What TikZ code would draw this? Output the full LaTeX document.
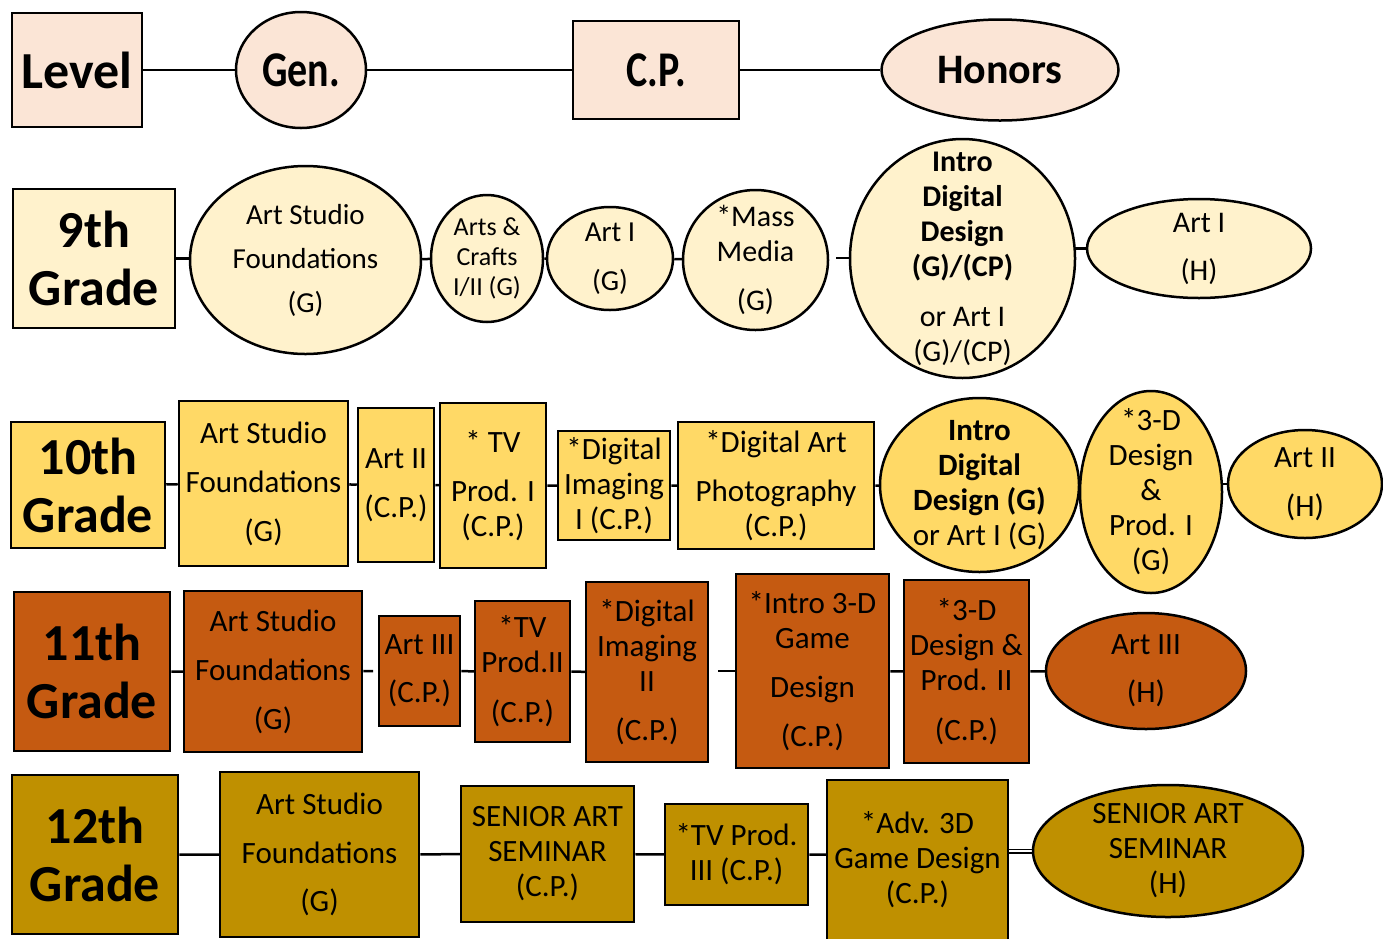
\documentclass[tikz,border=0pt]{standalone}
\usepackage{fontspec}
\setmainfont{Carlito}
\newfontfamily\condfont{Carlito}[FakeStretch=0.8]
\usetikzlibrary{shapes.geometric,backgrounds}
\definecolor{cLev}{HTML}{FBE5D6}
\definecolor{cNine}{HTML}{FFF2CC}
\definecolor{cTen}{HTML}{FFD966}
\definecolor{cEleven}{HTML}{C55A11}
\definecolor{cTwelve}{HTML}{BF9000}
\tikzset{
  sz/.style 2 args={minimum width=#1pt, minimum height=#2pt},
  bx/.style={draw=black, line width=2.5pt, rectangle, inner sep=0pt},
  el/.style={draw=black, line width=2.5pt, ellipse, inner sep=0pt},
  lbl/.style={align=center, inner sep=0pt, text=black, font=\fontsize{31}{35}\selectfont},
  t/.style={label={[lbl]center:{#1}}},
  ts/.style 2 args={label={[lbl,font=\fontsize{#1}{35}\selectfont]center:{#2}}},
  gr/.style={label={[lbl,font=\bfseries\fontsize{52}{58}\selectfont]center:{#1}}},
  conn/.style={draw=black, line width=2.5pt},
  dbl/.style={draw=black, line width=1.3pt, double, double distance=2.4pt},
}
\begin{document}
\begin{tikzpicture}[x=1pt, y=-1pt]
\useasboundingbox (0,0) rectangle (1383,938);
\clip (0,0) rectangle (1383,938);
% ---------- Level row
\node[bx, fill=cLev, sz={130}{114}, label={[lbl,font=\bfseries\fontsize{52}{58}\selectfont]center:{Level}}] (L) at (77,70) {};
\node[el, fill=cLev, sz={130}{116}, label={[lbl,font=\condfont\bfseries\fontsize{50}{58}\selectfont]center:{Gen.}}] (Gen) at (301,70) {};
\node[bx, fill=cLev, sz={166}{98}, label={[lbl,font=\condfont\bfseries\fontsize{50}{58}\selectfont]center:{C.P.}}] (CP) at (656,70) {};
\node[el, fill=cLev, sz={237}{101}, label={[lbl,font=\bfseries\fontsize{42}{50}\selectfont]center:{Honors}}] (Hon) at (1000,70) {};
% ---------- 9th grade
\node[bx, fill=cNine, sz={162}{139}, gr={9th\\Grade}] (g9) at (94,258.5) {};
\node[el, fill=cNine, sz={231}{188}, ts={29}{Art Studio\\[9pt]Foundations\\[9pt](G)}] (a9) at (305.5,260) {};
\node[el, fill=cNine, sz={112}{127}, label={[lbl,font=\fontsize{26}{30}\selectfont]center:{Arts \&\\Crafts\\I/II (G)}}] (b9) at (487,258.5) {};
\node[el, fill=cNine, sz={126}{103}, ts={29}{Art I\\[14pt](G)}] (c9) at (610,258.5) {};
\node[el, fill=cNine, sz={145}{140}, ts={30}{*Mass\\Media\\[14pt](G)}] (d9) at (755.5,260) {};
\node[el, fill=cNine, sz={225}{239}, ts={30}{\textbf{Intro}\\\textbf{Digital}\\\textbf{Design}\\\textbf{(G)/(CP)}\\[15pt]or Art I\\(G)/(CP)}] (e9) at (962.5,258.5) {};
\node[el, fill=cNine, sz={224}{99}, ts={30}{Art I\\[13pt](H)}] (f9) at (1199,248.5) {};
\coordinate (m9) at (836,258);
% ---------- 10th grade
\node[bx, fill=cTen, sz={154}{126}, gr={10th\\Grade}] (g10) at (88,485) {};
\node[bx, fill=cTen, sz={169}{165}, t={Art Studio\\[14pt]Foundations\\[14pt](G)}] (a10) at (263.5,483.5) {};
\node[bx, fill=cTen, sz={76}{154}, t={Art II\\[14pt](C.P.)}] (b10) at (396,485) {};
\node[bx, fill=cTen, sz={106}{165}, t={* TV\\[14pt]Prod. I\\(C.P.)}] (c10) at (493,485.5) {};
\node[bx, fill=cTen, sz={112}{109}, t={*Digital\\Imaging\\I (C.P.)}] (d10) at (614,485.5) {};
\node[bx, fill=cTen, sz={196}{127}, t={*Digital Art\\[14pt]Photography\\(C.P.)}] (e10) at (776,485.5) {};
\node[el, fill=cTen, sz={199}{174}, t={\textbf{Intro}\\\textbf{Digital}\\\textbf{Design (G)}\\or Art I (G)}] (f10) at (979.5,485) {};
\node[el, fill=cTen, sz={142}{202}, t={*3-D\\Design\\\&\\Prod. I\\(G)}] (k10) at (1151,492) {};
\node[el, fill=cTen, sz={154}{108}, t={Art II\\[14pt](H)}] (h10) at (1305,484) {};
% ---------- 11th grade
\node[bx, fill=cEleven, sz={156}{159}, gr={11th\\Grade}] (g11) at (92,671.5) {};
\node[bx, fill=cEleven, sz={178}{161}, t={Art Studio\\[14pt]Foundations\\[14pt](G)}] (a11) at (273,671.5) {};
\node[bx, fill=cEleven, sz={81}{110}, t={Art III\\[13pt](C.P.)}] (b11) at (419.5,671) {};
\node[bx, fill=cEleven, sz={95}{141}, t={*TV\\Prod.II\\[15pt](C.P.)}] (c11) at (522.5,671.5) {};
\node[bx, fill=cEleven, sz={122}{180}, t={*Digital\\Imaging\\II\\[14pt](C.P.)}] (d11) at (647,672) {};
\node[bx, fill=cEleven, sz={153}{194}, t={*Intro 3-D\\Game\\[14pt]Design\\[14pt](C.P.)}] (e11) at (812.5,671) {};
\node[bx, fill=cEleven, sz={125}{183}, t={*3-D\\Design \&\\Prod. II\\[15pt](C.P.)}] (f11) at (966.5,671.5) {};
\node[el, fill=cEleven, sz={200}{116}, t={Art III\\[13pt](H)}] (h11) at (1146,671) {};
\coordinate (q11) at (373,671);
\coordinate (r11) at (718,671);
% ---------- 12th grade
\node[bx, fill=cTwelve, sz={166}{159}, gr={12th\\Grade}] (g12) at (95,854.5) {};
\node[bx, fill=cTwelve, sz={199}{165}, t={Art Studio\\[14pt]Foundations\\[13pt](G)}] (a12) at (319.5,854.5) {};
\node[bx, fill=cTwelve, sz={173}{136}, t={SENIOR ART\\SEMINAR\\(C.P.)}] (b12) at (547.5,854) {};
\node[bx, fill=cTwelve, sz={143}{101}, t={*TV Prod.\\III (C.P.)}] (c12) at (736.5,854.5) {};
\node[bx, fill=cTwelve, sz={181}{170}] (d12) at (917.5,865) {};
\node[lbl] (d12t) at (917.5,860) {*Adv. 3D\\Game Design\\(C.P.)};
\node[el, fill=cTwelve, sz={270}{132}, t={SENIOR ART\\SEMINAR\\(H)}] (e12) at (1168,851) {};
% ---------- connectors
\begin{scope}[on background layer]
\draw[conn] (L) -- (Gen) -- (CP) -- (Hon);
\draw[conn] (g9) -- (g9 -| a9);
\draw[conn] (a9) -- (b9) -- (c9) -- (d9);
\draw[conn] (m9) -- (m9 -| e9);
\draw[conn] (f9) -- (f9 -| e9);
\draw[conn] (g10) -- (a10) -- (b10) -- (c10) -- (d10) -- (e10) -- (e10 -| f10);
\draw[conn] (f10) -- (f10 -| k10);
\draw[conn] (h10) -- (h10 -| k10);
\draw[conn] (g11) -- (a11) -- (q11);
\draw[conn] (b11) -- (c11) -- (d11);
\draw[conn] (r11) -- (r11 -| e11);
\draw[conn] (e11) -- (f11) -- (h11);
\draw[conn] (g12) -- (a12) -- (b12) -- (c12) -- (c12 -| d12);
\draw[dbl] (e12) -- (e12 -| d12);
\end{scope}
\end{tikzpicture}
\end{document}
